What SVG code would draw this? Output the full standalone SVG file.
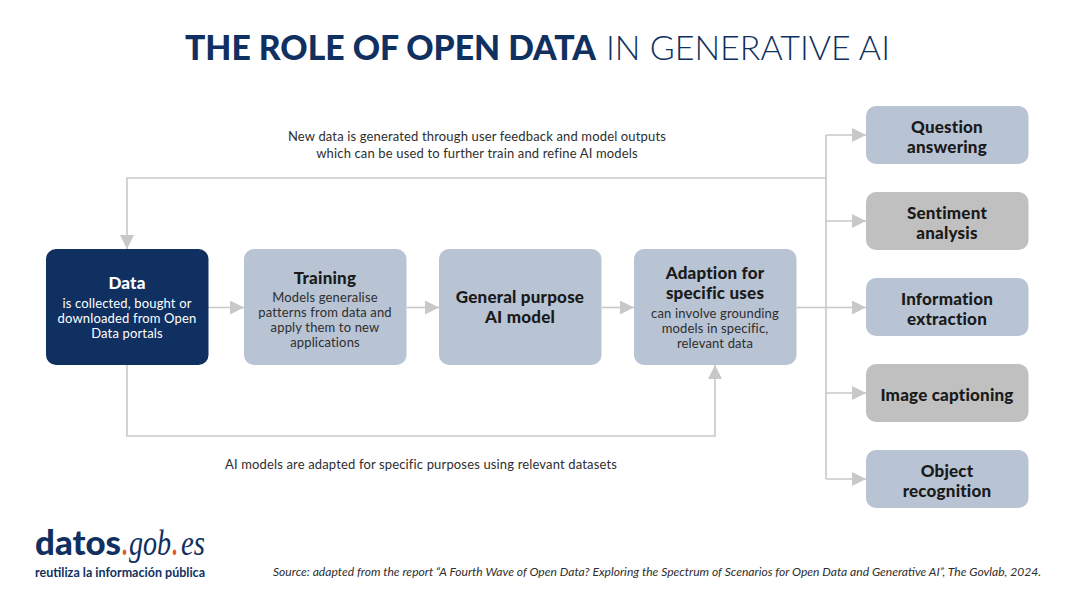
<svg xmlns="http://www.w3.org/2000/svg" width="1075" height="610" viewBox="0 0 1075 610">
<style>
text{font-family:Lato,"Open Sans","Liberation Sans",sans-serif;text-anchor:middle}
.box{fill:#b8c3d3}.gray{fill:#c0c0c0}.navy{fill:#0f3060}
.h{font-size:17px;font-weight:900;fill:#1a1a1a;letter-spacing:.2px}
.s{font-size:13px;fill:#2e2e2e;letter-spacing:.15px}
.w{fill:#fff}
.n{font-size:13px;fill:#2e2e2e;letter-spacing:.15px}
.c{fill:none;stroke:#c8c8c8;stroke-width:1.6}
.st{text-anchor:start}
.dot{font-size:35px;font-weight:900;fill:#e0592a}
.it{font-family:"Liberation Serif",serif;font-style:italic;font-size:36px;fill:#0f3060}
.t{font-size:34px;fill:#0f3060}
</style>
<defs><marker id="a" markerUnits="userSpaceOnUse" markerWidth="14" markerHeight="14" refX="14" refY="7" orient="auto"><path d="M0 0L14 7L0 14Z" fill="#c8c8c8"/></marker></defs>
<rect width="1075" height="610" fill="#fff"/>
<g id="title"><text class="st t" x="185" y="60" font-weight="900" textLength="411" lengthAdjust="spacingAndGlyphs">THE ROLE OF OPEN DATA</text><text class="st t" x="606" y="60" font-weight="300" textLength="284" lengthAdjust="spacingAndGlyphs">IN GENERATIVE AI</text></g>
<g id="connectors">
<path class="c" d="M826 178H127V249" marker-end="url(#a)"/>
<path class="c" d="M127 365V436H715V365" marker-end="url(#a)"/>
<path class="c" d="M208 307.500H244" marker-end="url(#a)"/>
<path class="c" d="M407 307.500H439" marker-end="url(#a)"/>
<path class="c" d="M602 307.500H634" marker-end="url(#a)"/>
<path class="c" d="M797 307.500H866" marker-end="url(#a)"/>
<path class="c" d="M826 135V479"/>
<path class="c" d="M826 135H866" marker-end="url(#a)"/>
<path class="c" d="M826 221H866" marker-end="url(#a)"/>
<path class="c" d="M826 393H866" marker-end="url(#a)"/>
<path class="c" d="M826 479H866" marker-end="url(#a)"/>
</g>
<g id="label-feedback"><text class="n" x="477" y="141">New data is generated through user feedback and model outputs</text><text class="n" x="477" y="158">which can be used to further train and refine AI models</text></g>
<g id="label-adapted"><text class="n" x="421" y="469">AI models are adapted for specific purposes using relevant datasets</text></g>
<g id="data"><rect class="navy" x="46" y="249" width="162.500" height="116" rx="10"/><text class="h w" x="127" y="289">Data</text><text class="s w" x="127" y="308">is collected, bought or</text><text class="s w" x="127" y="323">downloaded from Open</text><text class="s w" x="127" y="338">Data portals</text></g>
<g id="training"><rect class="box" x="244" y="249" width="162.500" height="116" rx="10"/><text class="h" x="325" y="284">Training</text><text class="s" x="325" y="302">Models generalise</text><text class="s" x="325" y="317">patterns from data and</text><text class="s" x="325" y="332">apply them to new</text><text class="s" x="325" y="347">applications</text></g>
<g id="general"><rect class="box" x="439" y="249" width="162.500" height="116" rx="10"/><text class="h" x="520" y="303">General purpose</text><text class="h" x="520" y="323">AI model</text></g>
<g id="adaption"><rect class="box" x="634" y="249" width="162.500" height="116" rx="10"/><text class="h" x="715" y="279">Adaption for</text><text class="h" x="715" y="299">specific uses</text><text class="s" x="715" y="318">can involve grounding</text><text class="s" x="715" y="333">models in specific,</text><text class="s" x="715" y="348">relevant data</text></g>
<g id="question"><rect class="box" x="866" y="106" width="162.500" height="58" rx="10"/><text class="h" x="947" y="133">Question</text><text class="h" x="947" y="153">answering</text></g>
<g id="sentiment"><rect class="gray" x="866" y="192" width="162.500" height="58" rx="10"/><text class="h" x="947" y="219">Sentiment</text><text class="h" x="947" y="239">analysis</text></g>
<g id="information"><rect class="box" x="866" y="278" width="162.500" height="58" rx="10"/><text class="h" x="947" y="305">Information</text><text class="h" x="947" y="325">extraction</text></g>
<g id="image"><rect class="gray" x="866" y="364" width="162.500" height="58" rx="10"/><text class="h" x="947" y="401">Image captioning</text></g>
<g id="object"><rect class="box" x="866" y="450" width="162.500" height="58" rx="10"/><text class="h" x="947" y="477">Object</text><text class="h" x="947" y="497">recognition</text></g>
<g id="logo">
<text class="st" x="35" y="555" style="font-size:35px;font-weight:900;fill:#0f3060" textLength="86" lengthAdjust="spacingAndGlyphs">datos</text>
<text class="st dot" transform="translate(122 555) scale(.6 1)">.</text>
<text class="st it" transform="translate(129 555) scale(.78 1)">gob</text>
<text class="st dot" transform="translate(172 555) scale(.6 1)">.</text>
<text class="st it" transform="translate(181 555) scale(.8 1)">es</text>
<text class="st" x="35" y="577" style="font-size:12.5px;font-weight:700;fill:#0f3060" textLength="170">reutiliza la información pública</text></g>
<g id="source"><text class="st" x="273" y="576" style="font-size:11.6px;font-style:italic;fill:#2e2e2e" textLength="768" lengthAdjust="spacingAndGlyphs">Source: adapted from the report “A Fourth Wave of Open Data? Exploring the Spectrum of Scenarios for Open Data and Generative AI”, The Govlab, 2024.</text></g>
</svg>
